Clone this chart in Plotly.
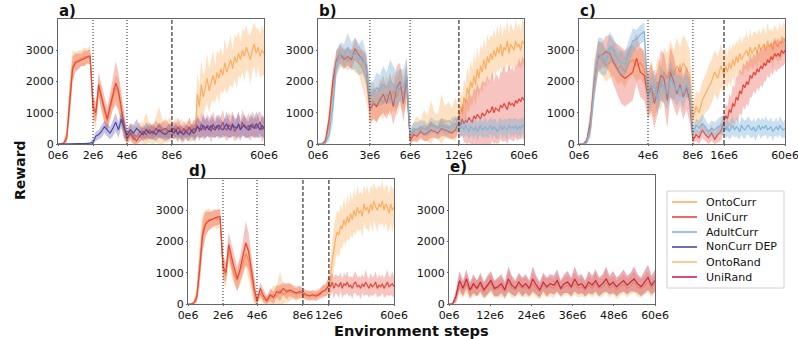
import numpy as np
import plotly.graph_objects as go

W, H = 798, 339

# ---------------- axis break points (environment steps) ----------------
A_BREAKS = [0, 2e6, 4e6, 8e6, 60e6]
B_BREAKS = [0, 3e6, 6e6, 12e6, 60e6]
C_BREAKS = [0, 4e6, 8e6, 16e6, 60e6]
D_BREAKS = [0, 2e6, 4e6, 8e6, 12e6, 60e6]
E_BREAKS = [0, 60e6]
A_TICKTEXT = ["0e6", "2e6", "4e6", "8e6", "60e6"]
B_TICKTEXT = ["0e6", "3e6", "6e6", "12e6", "60e6"]
C_TICKTEXT = ["0e6", "4e6", "8e6", "16e6", "60e6"]
D_TICKTEXT = ["0e6", "2e6", "4e6", "8e6", "12e6", "60e6"]
E_TICKSTEPS = [0, 12e6, 24e6, 36e6, 48e6, 60e6]
E_TICKTEXT = ["0e6", "12e6", "24e6", "36e6", "48e6", "60e6"]
Y_TICKS = [0, 1000, 2000, 3000]

# ---------------- panel a ----------------
a_onto_mean = [
    [0, 0, 50, 300, 1500, 2500, 2650, 2700, 2750, 2800, 2800, 2850],
    [1100, 900, 1800, 1400, 1000, 700, 1100, 1500, 1800, 1600, 1000, 500],
    [200, 400, 300, 250, 400, 300, 500, 350, 300, 450, 600, 400, 350, 450],
    [450, 400, 500, 350, 450, 400, 300, 450, 400, 500, 350, 450, 400,
     1600, 1200, 1900, 1500, 1800, 2100, 1700, 2000, 2200, 1900, 2300, 2100, 2400, 2200, 2600,
     2300, 2500, 2700, 2400, 2800, 2600, 2900, 2700, 3000, 2800, 3100, 2900, 2700, 3000, 3200,
     2900, 3100, 2800, 3000, 2900],
]
a_onto_band = [
    [0, 0, 50, 250, 600, 500, 300, 300, 250, 300, 250, 300],
    [400, 400, 300, 400, 300, 300, 400, 400, 400, 500, 500, 400],
    [200, 300, 300, 300, 300, 400, 500, 300, 300, 400, 600, 400, 300, 400],
    [300, 250, 350, 300, 300, 400, 250, 300, 300, 350, 300, 300, 400,
     700, 600, 800, 700, 600, 800, 700, 700, 800, 600, 700, 800, 700, 600, 800,
     700, 700, 800, 600, 700, 800, 700, 600, 700, 800, 700, 600, 800, 700, 700,
     800, 600, 700, 800, 700],
]
a_uni_mean = [
    [0, 0, 30, 200, 1300, 2400, 2600, 2650, 2700, 2750, 2780, 2800],
    [1200, 1000, 1900, 1500, 1100, 800, 1200, 1600, 1950, 1700, 1100, 600],
    [150, 350, 200, 100, 250, 400, 300, 450, 350, 500, 400, 450, 500, 400],
    [450, 500, 400, 550, 450, 350, 500, 400, 450, 550, 400, 500, 450, 600, 400, 650, 500, 450,
     600, 550, 400, 650, 500, 600, 450, 550, 700, 500, 450, 600, 550, 650, 400, 500, 600, 450,
     700, 550, 500, 600, 450, 650, 550, 500, 600, 700, 450, 550],
]
a_uni_band = [
    [0, 0, 20, 150, 500, 400, 300, 250, 200, 250, 200, 250],
    [400, 300, 400, 400, 400, 400, 400, 500, 700, 600, 500, 400],
    [150, 200, 200, 150, 200, 200, 200, 250, 200, 250, 200, 250, 300, 250],
    [200, 250, 200, 300, 250, 200, 250, 200, 250, 300, 200, 250, 300, 350, 300, 400, 350, 300,
     350, 300, 350, 400, 300, 350, 300, 350, 400, 300, 350, 400, 350, 400, 300, 350, 400, 350,
     400, 350, 300, 400, 350, 400, 350, 300, 400, 350, 400, 350],
]
a_non_mean = [
    [0, 0, 0, 0, 0, 0, 0, 10, 10, 20, 20, 30],
    [50, 250, 300, 400, 550, 450, 350, 500, 700, 450, 800, 500],
    [300, 450, 350, 500, 400, 300, 450, 350, 400, 300, 450, 350, 300, 400],
    [400, 350, 450, 300, 400, 350, 300, 400, 350, 300, 450, 350, 400, 550, 500, 450, 600, 500,
     550, 450, 600, 500, 450, 550, 600, 500, 450, 550, 650, 500, 450, 600, 550, 500, 650, 450,
     550, 600, 500, 450, 600, 550, 500, 650, 550, 450, 600, 500],
]
a_non_band = [
    [0, 0, 0, 0, 0, 0, 0, 10, 10, 20, 20, 30],
    [100, 150, 150, 200, 200, 200, 200, 250, 300, 250, 250, 300],
    [200, 200, 250, 300, 200, 200, 250, 200, 250, 200, 250, 200, 200, 250],
    [200, 200, 250, 200, 200, 250, 200, 200, 250, 200, 200, 250, 250, 300, 300, 250, 350, 300,
     300, 250, 350, 300, 250, 300, 350, 300, 250, 300, 400, 300, 250, 350, 300, 300, 400, 250,
     300, 350, 300, 250, 350, 300, 300, 400, 350, 250, 350, 300],
]

# ---------------- panel b ----------------
b_onto_mean = [
    [0, 0, 50, 600, 1800, 2600, 2750, 2800, 2650, 2750, 2700, 2600, 2400, 2100],
    [1300, 1400, 1200, 1500, 1300, 1600, 1400, 1700, 1500, 1800, 1600, 1900],
    [200, 400, 500, 450, 600, 500, 700, 600, 550, 800, 700, 750, 650, 800],
    [800, 1200, 1000, 1500, 1300, 1800, 1600, 2000, 1800, 2200, 1900, 2400, 2100, 2500,
     2300, 2700, 2400, 2800, 2600, 2900, 2700, 3000, 2800, 3100, 2900, 3200, 2800, 3100,
     3000, 3300, 2900, 3200, 3100, 3000, 3300, 3100, 3200, 3000, 3300, 3200],
]
b_onto_band = [
    [0, 0, 50, 300, 500, 400, 300, 300, 300, 300, 400, 400, 600, 700],
    [600, 600, 500, 600, 500, 600, 500, 600, 600, 600, 600, 600],
    [200, 300, 400, 300, 500, 400, 700, 400, 400, 800, 500, 600, 500, 700],
    [400, 500, 500, 600, 600, 700, 600, 700, 600, 700, 700, 700, 600, 700, 700, 700,
     600, 700, 700, 600, 700, 700, 600, 700, 600, 700, 600, 700, 600, 700, 600, 700,
     600, 600, 700, 600, 700, 600, 700, 700],
]
b_uni_mean = [
    [0, 0, 100, 800, 2000, 2700, 2900, 2700, 2800, 2700, 3050, 2850, 2700, 2500],
    [1100, 1300, 1200, 1400, 1600, 1300, 1700, 1200, 1800, 2000, 1300, 2100],
    [100, 300, 250, 400, 300, 350, 450, 400, 350, 500, 450, 400, 350, 450],
    [700, 600, 800, 650, 750, 700, 850, 750, 700, 900, 800, 950, 850, 800, 1000, 900,
     950, 1100, 1000, 1050, 1200, 1000, 1150, 1100, 1050, 1250, 1150, 1300, 1200, 1100,
     1350, 1250, 1300, 1200, 1400, 1300, 1450, 1350, 1500, 1400],
]
b_uni_band = [
    [0, 0, 100, 300, 400, 300, 300, 300, 300, 300, 350, 300, 300, 400],
    [500, 500, 500, 500, 600, 500, 600, 600, 700, 600, 600, 600],
    [150, 200, 200, 200, 200, 250, 250, 200, 200, 250, 200, 200, 200, 250],
    [300, 400, 500, 600, 700, 700, 800, 800, 800, 900, 900, 1000, 900, 1000, 1000, 1100,
     1000, 1100, 1000, 1100, 1100, 1000, 1100, 1100, 1000, 1100, 1100, 1200, 1100, 1200,
     1200, 1100, 1200, 1100, 1200, 1200, 1300, 1200, 1300, 1300],
]
b_adult_mean = [
    [0, 0, 30, 300, 1200, 2600, 2900, 2800, 3100, 2800, 2900, 2700, 2800, 2400],
    [1500, 1600, 1800, 1700, 1900, 1800, 2000, 1900, 1700, 1900, 1800, 2200],
    [300, 500, 450, 550, 500, 450, 600, 550, 500, 600, 550, 500, 600, 650],
    [600, 500, 550, 450, 600, 500, 400, 550, 500, 450, 550, 400, 500, 600, 450, 500,
     550, 450, 500, 600, 450, 550, 500, 400, 500, 600, 450, 550, 500, 450, 600, 500,
     550, 500, 600, 450, 550, 500, 600, 550],
]
b_adult_band = [
    [0, 0, 30, 200, 500, 400, 350, 400, 450, 450, 500, 500, 550, 500],
    [500, 400, 500, 500, 600, 500, 700, 600, 600, 500, 600, 600],
    [200, 200, 250, 200, 250, 200, 250, 200, 250, 200, 250, 200, 250, 250],
    [250, 250, 300, 250, 300, 250, 250, 300, 250, 300, 250, 300, 250, 300, 250, 300,
     300, 250, 300, 250, 300, 250, 300, 250, 300, 250, 300, 250, 300, 300, 250, 300,
     250, 300, 250, 300, 250, 300, 250, 300],
]

# ---------------- panel c ----------------
c_onto_mean = [
    [0, 0, 80, 700, 2100, 2800, 2700, 2500, 2600, 2700, 2400, 2500, 2300, 2600, 2700, 2500, 2600, 2400],
    [1600, 1900, 1500, 2000, 1800, 2300, 2100, 2400, 2200, 2500, 2300, 2600, 2400, 2200],
    [800, 1200, 1000, 1400, 1600, 1800, 2000, 2300, 2100, 2500],
    [2200, 2500, 2300, 2600, 2400, 2700, 2500, 2800, 2600, 2900, 2700, 2800, 2900, 3000, 2800,
     3100, 2900, 3000, 3100, 2900, 3200, 3000, 3100, 3200, 3000, 3300, 3100, 3200, 3000, 3300,
     3200, 3100, 3300, 3200, 3400, 3300],
]
c_onto_band = [
    [0, 0, 80, 400, 600, 500, 500, 500, 500, 500, 500, 500, 500, 500, 500, 500, 500, 500],
    [700, 800, 700, 800, 700, 800, 800, 900, 800, 900, 800, 900, 900, 800],
    [500, 500, 600, 600, 600, 700, 700, 700, 700, 700],
    [600, 600, 500, 600, 600, 500, 600, 500, 600, 600, 500, 600, 500, 600, 500, 600, 500, 600,
     500, 600, 500, 500, 600, 500, 500, 600, 500, 500, 600, 500, 500, 500, 600, 500, 500, 500],
]
c_uni_mean = [
    [0, 0, 100, 700, 2000, 2800, 2850, 2950, 2900, 2600, 2400, 2200, 2100, 2200, 2300, 2750, 2300, 2200],
    [1500, 1800, 1300, 1700, 2200, 2100, 1400, 2300, 2000, 1600, 1900, 1500, 1800, 1400],
    [100, 300, 200, 450, 300, 200, 350, 150, 300, 400],
    [700, 900, 800, 1100, 1000, 1300, 1200, 1500, 1400, 1700, 1600, 1900, 1800, 2000, 1900,
     2200, 2100, 2300, 2200, 2400, 2300, 2500, 2400, 2600, 2500, 2700, 2600, 2800, 2700, 2900,
     2800, 2900, 2800, 3000, 2900, 3000],
]
c_uni_band = [
    [0, 0, 100, 400, 500, 500, 400, 500, 600, 700, 800, 900, 900, 900, 900, 800, 800, 800],
    [700, 800, 800, 700, 800, 800, 900, 800, 800, 700, 700, 700, 700, 700],
    [100, 200, 200, 250, 200, 200, 250, 200, 250, 300],
    [300, 400, 400, 500, 500, 600, 600, 700, 700, 700, 700, 700, 700, 700, 700, 700, 600, 600,
     600, 600, 600, 600, 600, 600, 500, 500, 500, 500, 500, 500, 500, 500, 400, 500, 400, 400],
]
c_adult_mean = [
    [0, 0, 50, 500, 1900, 2900, 2800, 2600, 3100, 3000, 2700, 2600, 2550, 2900, 3300, 3350, 3500, 3600],
    [1500, 1700, 1900, 1400, 2000, 1800, 1600, 2100, 1900, 1700, 1800, 1600, 1900, 1700],
    [300, 600, 500, 650, 550, 400, 500, 450, 550, 600],
    [600, 450, 550, 400, 500, 600, 450, 550, 500, 400, 600, 500, 450, 550, 600, 500, 450, 550,
     400, 500, 600, 450, 550, 500, 600, 450, 500, 550, 400, 500, 550, 450, 600, 500, 450, 500],
]
c_adult_band = [
    [0, 0, 50, 300, 500, 500, 600, 400, 500, 400, 400, 400, 400, 400, 400, 300, 300, 300],
    [500, 500, 500, 500, 500, 500, 500, 600, 500, 500, 400, 500, 400, 400],
    [200, 200, 250, 300, 250, 200, 250, 250, 250, 300],
    [300, 250, 300, 250, 300, 300, 250, 300, 300, 250, 300, 300, 300, 250, 300, 300, 250, 300,
     300, 300, 250, 300, 300, 250, 300, 300, 250, 300, 300, 250, 300, 250, 300, 300, 250, 300],
]

# ---------------- panel d ----------------
d_onto_mean = [
    [0, 0, 50, 300, 1300, 2300, 2600, 2700, 2700, 2750, 2700, 2750],
    [1100, 900, 1700, 1300, 900, 750, 1000, 1300, 1600, 1400, 900, 400],
    [50, 350, 150, 100, 200, 300, 250, 450, 300, 350, 400, 350, 300, 350],
    [300, 250, 300, 250, 300, 350, 400, 450],
    [600, 900, 1400, 1800, 2100, 2300, 2200, 2500, 2400, 2700, 2500, 2800, 2600, 2900,
     2700, 3000, 2800, 3100, 2900, 3000, 2800, 3200, 3000, 3100, 2900, 3200, 3000, 3300,
     3100, 3000, 3200, 3100, 3300, 3000, 3200, 3100, 2900, 3200, 3000, 3100],
]
d_onto_band = [
    [0, 0, 50, 250, 600, 600, 400, 350, 300, 300, 300, 300],
    [400, 400, 300, 400, 300, 300, 400, 400, 400, 500, 500, 400],
    [100, 200, 200, 150, 200, 300, 300, 600, 300, 300, 300, 200, 200, 200],
    [150, 150, 150, 150, 150, 150, 150, 200],
    [300, 500, 600, 700, 700, 700, 700, 700, 600, 700, 600, 700, 600, 700, 600, 700,
     600, 700, 600, 600, 700, 600, 600, 700, 600, 600, 700, 600, 600, 700, 600, 600,
     700, 600, 600, 700, 600, 600, 700, 600],
]
d_uni_mean = [
    [0, 0, 30, 200, 1100, 2200, 2550, 2650, 2700, 2750, 2780, 2800],
    [1200, 1000, 1900, 1500, 1100, 800, 1100, 1500, 1950, 1700, 1100, 500],
    [100, 500, 250, 100, 300, 200, 400, 350, 500, 400, 450, 400, 350, 400],
    [350, 300, 250, 300, 250, 300, 400, 450],
    [600, 550, 700, 500, 650, 600, 550, 700, 500, 650, 600, 700, 550, 600, 500, 650,
     700, 550, 600, 500, 650, 550, 700, 600, 500, 650, 550, 600, 700, 500, 600, 550,
     650, 500, 600, 700, 550, 600, 650, 550],
]
d_uni_band = [
    [0, 0, 30, 150, 500, 500, 400, 300, 250, 250, 250, 250],
    [400, 300, 400, 400, 400, 400, 400, 500, 700, 600, 500, 400],
    [150, 200, 200, 150, 200, 200, 200, 250, 200, 250, 200, 200, 200, 200],
    [150, 150, 150, 150, 150, 150, 200, 200],
    [250, 300, 300, 350, 300, 300, 350, 300, 300, 350, 300, 350, 300, 300, 350, 300,
     350, 300, 300, 350, 300, 300, 400, 300, 300, 350, 300, 300, 350, 300, 350, 300,
     300, 300, 350, 400, 300, 300, 400, 350],
]

# ---------------- panel e ----------------
e_ontorand_mean = [
    [0, 0, 200, 600, 450, 650, 400, 550, 500, 600, 400, 550, 650, 450, 500, 550, 400, 700, 500, 450,
     600, 500, 550, 450, 650, 500, 400, 600, 500, 550, 500, 650, 450, 550, 600, 500, 650, 500, 550, 450,
     600, 500, 650, 500, 550, 700, 500, 600, 450, 550, 650, 500, 600, 700, 550, 500, 600, 700, 500, 650],
]
e_ontorand_band = [
    [0, 0, 150, 300, 250, 300, 250, 300, 250, 300, 250, 300, 300, 250, 300, 300, 250, 350, 300, 250,
     300, 300, 300, 250, 350, 300, 250, 300, 300, 300, 300, 300, 250, 300, 300, 300, 350, 300, 300, 250,
     300, 300, 350, 300, 300, 350, 300, 300, 300, 300, 300, 300, 300, 350, 300, 300, 300, 350, 300, 300],
]
e_unirand_mean = [
    [0, 0, 250, 750, 500, 800, 450, 650, 500, 700, 450, 600, 750, 500, 550, 650, 450, 800, 600, 500,
     700, 550, 650, 500, 800, 600, 450, 700, 550, 650, 600, 750, 500, 650, 700, 550, 800, 600, 650, 500,
     700, 600, 750, 550, 650, 800, 600, 700, 550, 650, 750, 600, 700, 800, 650, 550, 700, 850, 600, 750],
]
e_unirand_band = [
    [0, 0, 200, 300, 250, 300, 250, 300, 250, 300, 250, 300, 300, 250, 300, 300, 250, 400, 300, 250,
     300, 300, 300, 250, 400, 300, 250, 300, 300, 300, 300, 350, 250, 300, 350, 300, 400, 300, 300, 250,
     350, 300, 350, 300, 300, 400, 300, 350, 300, 300, 350, 300, 300, 400, 300, 300, 350, 400, 300, 350],
]

# ---------------- styles ----------------
SERIES_NAMES = ["OntoCurr", "UniCurr", "AdultCurr", "NonCurr DEP", "OntoRand", "UniRand"]
LINE_COLORS = ["#fdae61", "#e5473b", "#7fb5da", "#4a4aa8", "#f2c57c", "#c9264b"]
FILL_COLORS = ["rgba(253,174,97,0.38)", "rgba(229,71,59,0.32)", "rgba(116,173,209,0.38)",
               "rgba(74,74,168,0.32)", "rgba(242,197,124,0.45)", "rgba(201,38,75,0.38)"]
COLORS = {n: (l, f) for n, l, f in zip(SERIES_NAMES, LINE_COLORS, FILL_COLORS)}

FONT = "DejaVu Sans"
DASHES = {"dot": "1px,2px", "dash": "4px,2px"}


def px_x(l, r):
    return [l / W, r / W]


def px_y(t, b):
    return [1 - b / H, 1 - t / H]


PANELS = [
    dict(name="a", breaks=A_BREAKS, pos=[0, 0.17, 0.335, 0.553, 1.0], ticktext=A_TICKTEXT,
         box=(58, 264, 19, 144), yr=[0, 4000],
         vlines=[(2e6, "dot"), (4e6, "dot"), (8e6, "dash")],
         series=[("OntoCurr", a_onto_mean, a_onto_band), ("UniCurr", a_uni_mean, a_uni_band),
                 ("NonCurr DEP", a_non_mean, a_non_band)]),
    dict(name="b", breaks=B_BREAKS, pos=[0, 0.252, 0.447, 0.684, 1.0], ticktext=B_TICKTEXT,
         box=(318, 524, 19, 144), yr=[0, 4000],
         vlines=[(3e6, "dot"), (6e6, "dot"), (12e6, "dash")],
         series=[("OntoCurr", b_onto_mean, b_onto_band), ("UniCurr", b_uni_mean, b_uni_band),
                 ("AdultCurr", b_adult_mean, b_adult_band)]),
    dict(name="c", breaks=C_BREAKS, pos=[0, 0.335, 0.553, 0.704, 1.0], ticktext=C_TICKTEXT,
         box=(579, 785, 19, 144), yr=[0, 4000],
         vlines=[(4e6, "dot"), (8e6, "dot"), (16e6, "dash")],
         series=[("OntoCurr", c_onto_mean, c_onto_band), ("UniCurr", c_uni_mean, c_uni_band),
                 ("AdultCurr", c_adult_mean, c_adult_band)]),
    dict(name="d", breaks=D_BREAKS, pos=[0, 0.17, 0.335, 0.558, 0.684, 1.0], ticktext=D_TICKTEXT,
         box=(188, 394, 179, 304), yr=[0, 4000],
         vlines=[(2e6, "dot"), (4e6, "dot"), (8e6, "dash"), (12e6, "dash")],
         series=[("OntoCurr", d_onto_mean, d_onto_band), ("UniCurr", d_uni_mean, d_uni_band)]),
    dict(name="e", breaks=E_BREAKS, pos=[0, 1.0], ticktext=None,
         box=(449, 655, 175, 304), yr=[0, 4120],
         vlines=[],
         series=[("OntoRand", e_ontorand_mean, e_ontorand_band),
                 ("UniRand", e_unirand_mean, e_unirand_band)]),
]

fig = go.Figure()
layout_axes = {}
shapes = []
annotations = []

for i, p in enumerate(PANELS):
    n = i + 1
    xa = "x" if n == 1 else f"x{n}"
    ya = "y" if n == 1 else f"y{n}"
    brk = p["breaks"]
    pos = p["pos"]
    l, r, t, b = p["box"]
    for name, mean_segs, band_segs in p["series"]:
        steps, mean, band = [], [], []
        nseg = len(mean_segs)
        for k in range(nseg):
            last = k == nseg - 1
            steps.append(np.linspace(brk[k], brk[k + 1], len(mean_segs[k]), endpoint=last))
            mean.extend(mean_segs[k])
            band.extend(band_segs[k])
        steps = np.concatenate(steps)
        mean = np.array(mean, float)
        band = np.array(band, float)
        xp = np.interp(steps, brk, pos)
        line_c, fill_c = COLORS[name]
        hi = mean + band
        lo = np.clip(mean - band, 0, None)
        fig.add_trace(go.Scatter(
            x=np.concatenate([xp, xp[::-1]]), y=np.concatenate([hi, lo[::-1]]),
            xaxis=xa, yaxis=ya, fill="toself", fillcolor=fill_c, mode="lines",
            line=dict(width=0), hoverinfo="skip", showlegend=False))
        fig.add_trace(go.Scatter(
            x=xp, y=mean, xaxis=xa, yaxis=ya, mode="lines", name=name,
            line=dict(color=line_c, width=1.2), showlegend=False))

    if p["ticktext"] is None:
        tickvals = list(np.interp(E_TICKSTEPS, brk, pos))
        ticktext = E_TICKTEXT
    else:
        tickvals = pos
        ticktext = p["ticktext"]

    common = dict(showline=True, mirror=True, linecolor="#666", linewidth=1, showgrid=False,
                  zeroline=False, ticks="outside", ticklen=1, tickcolor="#666",
                  automargin=False, tickangle=0, ticklabeloverflow="allow",
                  tickfont=dict(family=FONT, size=11, color="#111"))
    layout_axes["xaxis" if n == 1 else f"xaxis{n}"] = dict(
        common, domain=px_x(l, r), anchor=ya, range=[0, 1], tickmode="array",
        tickvals=tickvals, ticktext=ticktext)
    layout_axes["yaxis" if n == 1 else f"yaxis{n}"] = dict(
        common, domain=px_y(t, b), anchor=xa, range=p["yr"], tickmode="array",
        tickvals=Y_TICKS, ticktext=[str(v) for v in Y_TICKS])

    for s, dash in p["vlines"]:
        xv = float(np.interp(s, brk, pos))
        shapes.append(dict(type="line", xref=xa, yref=f"{ya} domain", x0=xv, x1=xv, y0=0, y1=1,
                           line=dict(color="#222", width=1.1 if dash == "dash" else 1,
                                     dash=DASHES[dash])))

    annotations.append(dict(text=f"<b>{p['name']})</b>", xref="paper", yref="paper",
                            x=(l - 1) / W, y=1 - (t - 8) / H,
                            xanchor="left", yanchor="middle", showarrow=False,
                            font=dict(family=FONT, size=15, color="#111")))

annotations.append(dict(text="<b>Reward</b>", xref="paper", yref="paper", x=20 / W, y=1 - 170 / H,
                        textangle=-90, showarrow=False, xanchor="center", yanchor="middle",
                        font=dict(family=FONT, size=14, color="#111")))
annotations.append(dict(text="<b>Environment steps</b>", xref="paper", yref="paper",
                        x=411 / W, y=1 - 330 / H, showarrow=False, xanchor="center",
                        yanchor="middle",
                        font=dict(family=FONT, size=14.6, color="#111")))

# ---- legend (drawn as a framed key so its compact spacing matches) ----
LEG_L, LEG_R, LEG_T, LEG_B = 667, 784, 191, 288
ROW0, ROW_STEP = 202, 15
shapes.append(dict(type="rect", xref="paper", yref="paper", x0=LEG_L / W, x1=LEG_R / W,
                   y0=1 - LEG_B / H, y1=1 - LEG_T / H, line=dict(color="#d0d0d0", width=1),
                   fillcolor="white", layer="above"))
for k, name in enumerate(SERIES_NAMES):
    yc = ROW0 + k * ROW_STEP
    shapes.append(dict(type="line", xref="paper", yref="paper", x0=672 / W, x1=697 / W,
                       y0=1 - yc / H, y1=1 - yc / H, layer="above",
                       line=dict(color=COLORS[name][0], width=1.6)))
    annotations.append(dict(text=name, xref="paper", yref="paper", x=704 / W, y=1 - yc / H,
                            xanchor="left", yanchor="middle", showarrow=False,
                            font=dict(family=FONT, size=11, color="#111")))

fig.update_layout(
    width=W, height=H, margin=dict(l=0, r=0, t=0, b=0, autoexpand=False),
    paper_bgcolor="white", plot_bgcolor="white", showlegend=False,
    shapes=shapes, annotations=annotations,
    **layout_axes,
)

fig.write_html("out.html")
